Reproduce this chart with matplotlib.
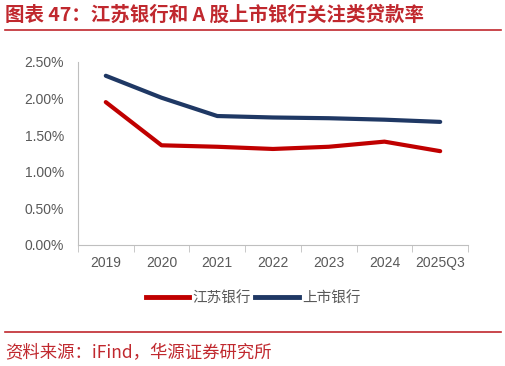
import matplotlib.pyplot as plt
import numpy as np
from matplotlib.lines import Line2D

plt.rcParams['font.family'] = ['Noto Sans CJK SC', 'DejaVu Sans']

years = ['2019', '2020', '2021', '2022', '2023', '2024', '2025Q3']
jiangsu = [1.95, 1.36, 1.34, 1.31, 1.34, 1.41, 1.28]
listed = [2.31, 2.01, 1.76, 1.74, 1.73, 1.71, 1.68]

red = '#C00000'
navy = '#1F3864'
grey = '#595959'
title_red = '#C0282E'

fig = plt.figure(figsize=(5.06, 3.66), dpi=100)
ax = fig.add_axes([0.154, 0.331, 0.771, 0.500])

x = np.arange(len(years))
ax.plot(x, jiangsu, color=red, lw=3, label='江苏银行', solid_capstyle='round')
ax.plot(x, listed, color=navy, lw=3, label='上市银行', solid_capstyle='round')

ax.set_xlim(-0.5, len(years) - 0.5)
ax.set_ylim(0, 2.5)
ax.set_yticks(np.arange(0, 2.51, 0.5))
ax.set_yticklabels(['%.2f%%' % v for v in np.arange(0, 2.51, 0.5)])
ax.set_xticks(x)
ax.set_xticklabels(years)
ax.set_xticks(np.arange(-0.5, len(years)), minor=True)
ax.tick_params(axis='x', which='major', length=0, pad=8, labelsize=10, colors=grey)
ax.tick_params(axis='x', which='minor', length=5, color='#BFBFBF', direction='out')
ax.tick_params(axis='y', length=0, pad=10, labelsize=10, colors=grey)
for lab in ax.get_xticklabels() + ax.get_yticklabels():
    lab.set_family(['Liberation Sans', 'DejaVu Sans'])
for s in ['top', 'right']:
    ax.spines[s].set_visible(False)
for s in ['left', 'bottom']:
    ax.spines[s].set_color('#BFBFBF')

fig.legend(handles=[Line2D([], [], color=red, lw=3.5), Line2D([], [], color=navy, lw=3.5)],
           labels=['江苏银行', '上市银行'], loc='center', bbox_to_anchor=(0.5, 0.185),
           ncol=2, frameon=False, fontsize=10.5, handlelength=3, columnspacing=0.3,
           handletextpad=0.2, labelcolor=grey)

fig.text(0.01, 0.958, '图表 47：江苏银行和 A 股上市银行关注类贷款率', color=title_red,
         fontsize=14, fontweight='bold', va='center', ha='left')
fig.add_artist(Line2D([0.01, 0.99], [0.918, 0.918], color=title_red, lw=1.2))
fig.add_artist(Line2D([0.01, 0.99], [0.093, 0.093], color=title_red, lw=1.2))
fig.text(0.01, 0.036, '资料来源：iFind，华源证券研究所', color=title_red,
         fontsize=12.5, va='center', ha='left')

fig.savefig('out.png', dpi=100)
